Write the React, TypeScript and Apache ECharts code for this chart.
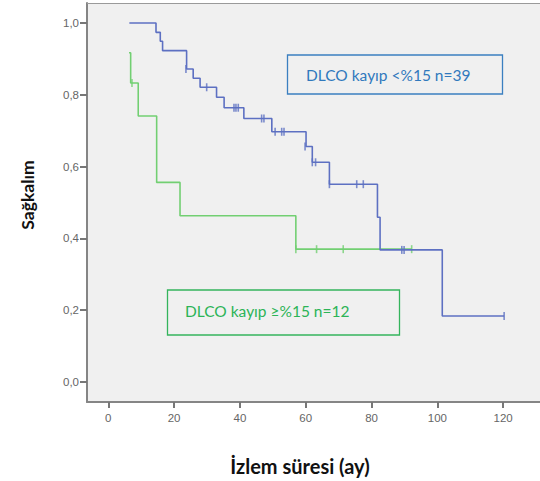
import React, { useEffect, useRef } from "react";
import * as echarts from "echarts";

// Kaplan-Meier step curves (time in months, survival)
const blueTimes = [6.4, 14.5, 15.8, 16.5, 23.8, 25.8, 27.9, 32.9, 35.2, 41.2, 49.7, 60.1, 62.0, 67.2, 81.8, 82.6, 101.5, 120.3];
const blueSurv = [1.0, 0.974, 0.949, 0.923, 0.872, 0.846, 0.821, 0.793, 0.764, 0.734, 0.697, 0.656, 0.612, 0.551, 0.459, 0.368, 0.184, 0.184];
const blueCensorTimes = [23.6, 29.9, 38.2, 38.8, 39.5, 46.6, 47.3, 50.7, 52.7, 53.4, 59.8, 62.0, 63.0, 67.2, 75.5, 77.5, 89.2, 89.9, 120.3];
const blueCensorSurv = [0.872, 0.821, 0.764, 0.764, 0.764, 0.734, 0.734, 0.697, 0.697, 0.697, 0.656, 0.612, 0.612, 0.551, 0.551, 0.551, 0.368, 0.368, 0.184];

const greenTimes = [6.3, 6.8, 9.1, 14.7, 21.8, 57.0, 92.2];
const greenSurv = [0.917, 0.833, 0.741, 0.556, 0.463, 0.370, 0.370];
const greenCensorTimes = [7.2, 57.0, 63.3, 71.4, 92.2];
const greenCensorSurv = [0.833, 0.370, 0.370, 0.370, 0.370];

const xTicks = [0, 20, 40, 60, 80, 100, 120];
const yTicks = [0, 0.2, 0.4, 0.6, 0.8, 1.0];

const blueLabel = "DLCO kayıp <%15 n=39";
const greenLabel = "DLCO kayıp ≥%15 n=12";
const xName = "İzlem süresi (ay)";
const yName = "Sağkalım";

const BLUE = "#5d70c2";
const GREEN = "#72cf72";

export default function App() {
  const ref = useRef<HTMLDivElement>(null);
  useEffect(() => {
    if (!ref.current) return;
    const chart = echarts.init(ref.current, null, { renderer: "svg" });
    const zip = (a: number[], b: number[]) => a.map((v, i) => [v, b[i]]);
    const axisLine = { show: true, onZero: false, lineStyle: { color: "#858585", width: 2 } };
    chart.setOption({
      animation: false,
      backgroundColor: "#ffffff",
      grid: {
        left: 87,
        top: 3,
        right: 0,
        bottom: 79,
        show: true,
        backgroundColor: "#f0f0f0",
        borderWidth: 0,
      },
      xAxis: {
        type: "value",
        min: -6.47,
        max: 131.2,
        axisLine,
        splitLine: { show: false },
        axisTick: {
          show: true,
          customValues: xTicks,
          length: 6,
          lineStyle: { color: "#777", width: 2 },
        },
        axisLabel: {
          customValues: xTicks,
          margin: 10,
          color: "#666",
          fontSize: 11.5,
          fontFamily: "Liberation Sans, Arial, sans-serif",
        },
      },
      yAxis: {
        type: "value",
        min: -0.0557,
        max: 1.0557,
        axisLine,
        splitLine: { show: false },
        axisTick: {
          show: true,
          customValues: yTicks,
          length: 7,
          lineStyle: { color: "#777", width: 2 },
        },
        axisLabel: {
          customValues: yTicks,
          margin: 8,
          color: "#666",
          fontSize: 11.5,
          fontFamily: "Liberation Sans, Arial, sans-serif",
          formatter: (v: number) => v.toFixed(1).replace(".", ","),
        },
      },
      series: [
        {
          type: "line",
          step: "end",
          data: zip(greenTimes, greenSurv),
          showSymbol: false,
          lineStyle: { color: GREEN, width: 1.6 },
          z: 2,
        },
        {
          type: "scatter",
          data: zip(greenCensorTimes, greenCensorSurv),
          symbol: "rect",
          symbolSize: [1.6, 8],
          itemStyle: { color: GREEN },
          z: 2,
        },
        {
          type: "line",
          step: "end",
          data: zip(blueTimes, blueSurv),
          showSymbol: false,
          lineStyle: { color: BLUE, width: 1.6 },
          z: 3,
        },
        {
          type: "scatter",
          data: zip(blueCensorTimes, blueCensorSurv),
          symbol: "rect",
          symbolSize: [1.6, 8],
          itemStyle: { color: BLUE },
          z: 3,
        },
      ],
      graphic: [
        {
          type: "line",
          shape: { x1: 87, y1: 3.5, x2: 540, y2: 3.5 },
          style: { stroke: "#9a9a9a", lineWidth: 1 },
          z: 10,
        },
        {
          type: "rect",
          shape: { x: 287.5, y: 55, width: 215, height: 39 },
          style: { fill: "#f0f0f0", stroke: "#3a7fc0", lineWidth: 1.3 },
          z: 10,
        },
        {
          type: "text",
          x: 306,
          y: 75,
          style: {
            text: blueLabel,
            fill: "#3079bd",
            fontSize: 15.5,
            fontFamily: "Lato, Open Sans, sans-serif",
            verticalAlign: "middle",
            align: "left",
          },
          z: 11,
        },
        {
          type: "rect",
          shape: { x: 167.5, y: 290, width: 232, height: 45 },
          style: { fill: "#f0f0f0", stroke: "#34b45c", lineWidth: 1.3 },
          z: 10,
        },
        {
          type: "text",
          x: 185,
          y: 311,
          style: {
            text: greenLabel,
            fill: "#2cb457",
            fontSize: 15.5,
            fontFamily: "Lato, Open Sans, sans-serif",
            verticalAlign: "middle",
            align: "left",
          },
          z: 11,
        },
        {
          type: "text",
          x: 300,
          y: 466,
          style: {
            text: xName,
            fill: "#111",
            fontSize: 20,
            fontWeight: "bold",
            fontFamily: "Lato, Open Sans, sans-serif",
            align: "center",
            verticalAlign: "middle",
          },
        },
        {
          type: "text",
          x: 27,
          y: 195,
          rotation: Math.PI / 2,
          style: {
            text: yName,
            fill: "#111",
            fontSize: 17.5,
            fontWeight: "bold",
            fontFamily: "Lato, Open Sans, sans-serif",
            align: "center",
            verticalAlign: "middle",
          },
        },
      ],
    });
    return () => chart.dispose();
  }, []);
  return (
    <div
      ref={ref}
      style={{ position: "fixed", left: 0, top: 0, width: 540, height: 481 }}
    />
  );
}
